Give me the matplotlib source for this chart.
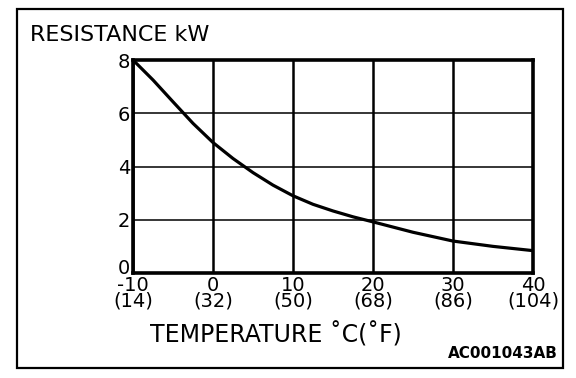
import matplotlib
matplotlib.use('Agg')
import matplotlib.pyplot as plt
import matplotlib.transforms as mtransforms
from matplotlib.patches import Rectangle

plt.rcParams['font.family'] = ['DejaVu Sans']

# data
temp_c = [-10, -7.5, -5, -2.5, 0, 2.5, 5, 7.5, 10, 12.5, 15, 17.5, 20, 25, 30, 35, 40]
resistance = [8.0, 7.25, 6.43, 5.62, 4.9, 4.3, 3.77, 3.3, 2.9, 2.58, 2.33, 2.11, 1.92, 1.53, 1.2, 1.0, 0.84]

x_ticks = [-10, 0, 10, 20, 30, 40]
x_labels = ['-10\n(14)', '0\n(32)', '10\n(50)', '20\n(68)', '30\n(86)', '40\n(104)']
y_ticks = [0, 2, 4, 6, 8]

W, H = 576, 378
fig = plt.figure(figsize=(W / 100, H / 100), dpi=100)
ax = fig.add_axes([133 / W, 1 - 273 / H, 400 / W, 213 / H])

ax.plot(temp_c, resistance, color='black', lw=2.3, solid_joinstyle='round', zorder=3)

ax.set_xlim(-10, 40)
ax.set_ylim(0, 8)
ax.set_xticks(x_ticks)
ax.set_xticklabels(x_labels, fontsize=14, linespacing=0.75)
ax.set_yticks(y_ticks)
ax.set_yticklabels([str(v) for v in y_ticks], fontsize=14)
ax.tick_params(length=0, pad=2)

# nudge the "0" label up like the original
lbl0 = ax.get_yticklabels()[0]
lbl0.set_transform(lbl0.get_transform() + mtransforms.ScaledTranslation(0, 7 / 100, fig.dpi_scale_trans))

ax.xaxis.grid(True, color='black', lw=1.8)
ax.yaxis.grid(True, color='black', lw=1.1)
for s in ax.spines.values():
    s.set_linewidth(2.6)
    s.set_zorder(4)

fig.text(30 / W, 1 - 41 / H, 'RESISTANCE kW', fontsize=16, va='baseline', ha='left')
fig.text(150 / W, 1 - 342 / H, 'TEMPERATURE ˚C(˚F)', fontsize=17, va='baseline', ha='left')
fig.text(558 / W, 1 - 358 / H, 'AC001043AB', fontsize=11, fontweight='bold', va='baseline', ha='right')

# outer frame
fig.patches.append(Rectangle((17 / W, 1 - 368 / H), 546 / W, 359 / H, transform=fig.transFigure,
                             fill=False, edgecolor='black', lw=1.6))

fig.savefig('out.png', dpi=100)
